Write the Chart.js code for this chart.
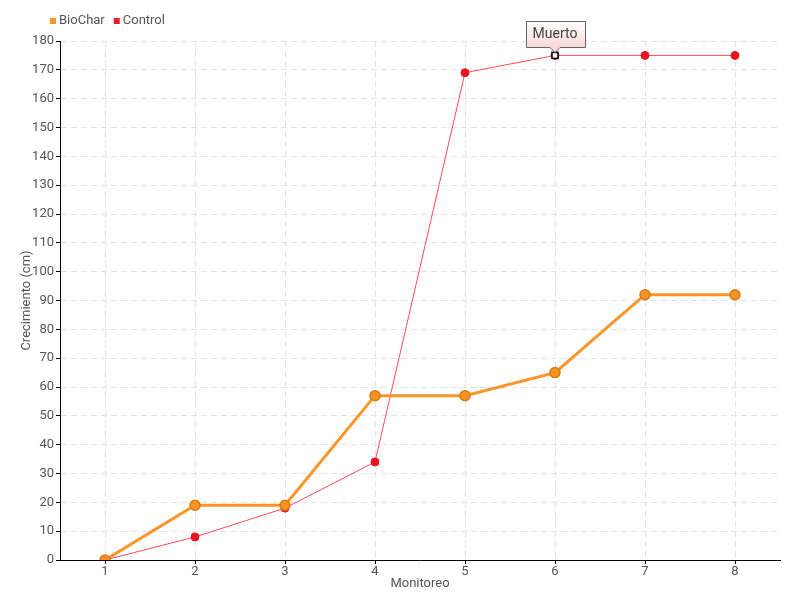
<!DOCTYPE html>
<html>
<head>
<meta charset="utf-8">
<script src="https://cdn.jsdelivr.net/npm/chart.js@4.4.1/dist/chart.umd.min.js"></script>
<style>
  html, body { margin: 0; padding: 0; background: #fff; }
  #wrap { width: 800px; height: 600px; }
</style>
</head>
<body>
<div id="wrap"><canvas id="chart"></canvas></div>
<script>
const monitoreo = ['1', '2', '3', '4', '5', '6', '7', '8'];
const biochar = [0, 19, 19, 57, 57, 65, 92, 92];
const control = [0, 8, 18, 34, 169, 175, 175, 175];
const muertoIndex = 5;
const muertoLabel = 'Muerto';

const police = 'Roboto, sans-serif';
const gris = '#555';

// légende dessinée à la main, collée en haut à gauche
const legendePlugin = {
    id: 'legende',
    afterDraw(chart) {
        const ctx = chart.ctx;
        ctx.save();
        ctx.font = '13px ' + police;
        ctx.textBaseline = 'middle';
        let x = 50;
        const y = 21;
        chart.data.datasets.forEach(ds => {
            ctx.fillStyle = ds.backgroundColor;
            ctx.fillRect(x, y - 3, 6, 6);
            ctx.fillStyle = gris;
            ctx.fillText(ds.label, x + 9, y);
            x += 9 + ctx.measureText(ds.label).width + 9;
        });
        ctx.restore();
    }
};

// petite bulle "Muerto" au-dessus du point du contrôle
const muertoPlugin = {
    id: 'muerto',
    afterDatasetsDraw(chart) {
        const meta = chart.getDatasetMeta(1);
        const pt = meta.data[muertoIndex];
        if (!pt) return;
        const ctx = chart.ctx;
        ctx.save();
        // carré blanc sur le point
        ctx.fillStyle = '#fff';
        ctx.strokeStyle = '#000';
        ctx.lineWidth = 1.5;
        ctx.fillRect(pt.x - 3, pt.y - 3, 6, 6);
        ctx.strokeRect(pt.x - 3, pt.y - 3, 6, 6);

        ctx.font = '14px ' + police;
        const w = 59;
        const h = 26;
        const x = Math.round(pt.x - w / 2) + 0.5;
        const y = Math.round(pt.y - 8 - h) + 0.5;
        const grad = ctx.createLinearGradient(0, y, 0, y + h);
        grad.addColorStop(0, '#ffffff');
        grad.addColorStop(1, '#fbd6d6');
        ctx.beginPath();
        ctx.moveTo(x, y);
        ctx.lineTo(x + w, y);
        ctx.lineTo(x + w, y + h);
        ctx.lineTo(pt.x + 5, y + h);
        ctx.lineTo(pt.x, y + h + 5);
        ctx.lineTo(pt.x - 5, y + h);
        ctx.lineTo(x, y + h);
        ctx.closePath();
        ctx.fillStyle = grad;
        ctx.fill();
        ctx.strokeStyle = '#666';
        ctx.lineWidth = 1;
        ctx.stroke();
        ctx.fillStyle = '#444';
        ctx.textAlign = 'center';
        ctx.textBaseline = 'middle';
        ctx.fillText(muertoLabel, pt.x, y + h / 2);
        ctx.restore();
    }
};

const ctx = document.getElementById('chart').getContext('2d');
new Chart(ctx, {
    type: 'line',
    data: {
        labels: monitoreo,
        datasets: [{
            label: 'BioChar',
            data: biochar,
            borderColor: '#fb9527',
            backgroundColor: '#f7931e',
            borderWidth: 3,
            pointRadius: 5,
            pointBackgroundColor: '#f7931e',
            pointBorderColor: '#d8791a',
            pointBorderWidth: 1.5,
            tension: 0,
            fill: false
        }, {
            label: 'Control',
            data: control,
            borderColor: '#ff4a5c',
            backgroundColor: '#ee1b2b',
            borderWidth: 1,
            pointRadius: 4,
            pointBackgroundColor: '#e8141f',
            pointBorderColor: '#e8141f',
            pointBorderWidth: 1,
            tension: 0,
            fill: false
        }]
    },
    options: {
        responsive: true,
        maintainAspectRatio: false,
        animation: false,
        layout: { padding: { left: 19, right: 20, top: 41, bottom: 8 } },
        plugins: {
            legend: { display: false },
            tooltip: { enabled: false }
        },
        scales: {
            x: {
                offset: true,
                afterFit: scale => { scale.height = 32; },
                title: {
                    display: true,
                    text: 'Monitoreo',
                    color: gris,
                    padding: { top: 0, bottom: 0 },
                    font: { family: police, size: 13 }
                },
                grid: {
                    color: '#e3e3e3',
                    tickColor: '#000',
                    tickLength: 4
                },
                border: { color: '#000', width: 1, dash: [6, 4] },
                ticks: {
                    color: gris,
                    padding: 0,
                    font: { family: police, size: 13 }
                }
            },
            y: {
                min: 0,
                max: 180,
                afterFit: scale => { scale.width = 41; },
                ticks: {
                    stepSize: 10,
                    color: gris,
                    padding: 2,
                    font: { family: police, size: 13 }
                },
                title: {
                    display: true,
                    text: 'Crecimiento (cm)',
                    color: gris,
                    padding: { top: 0, bottom: 0 },
                    font: { family: police, size: 13 }
                },
                grid: {
                    color: '#e3e3e3',
                    tickColor: '#000',
                    tickLength: 4
                },
                border: { color: '#000', width: 1, dash: [6, 4] }
            }
        }
    },
    plugins: [muertoPlugin, legendePlugin]
});
</script>
</body>
</html>
